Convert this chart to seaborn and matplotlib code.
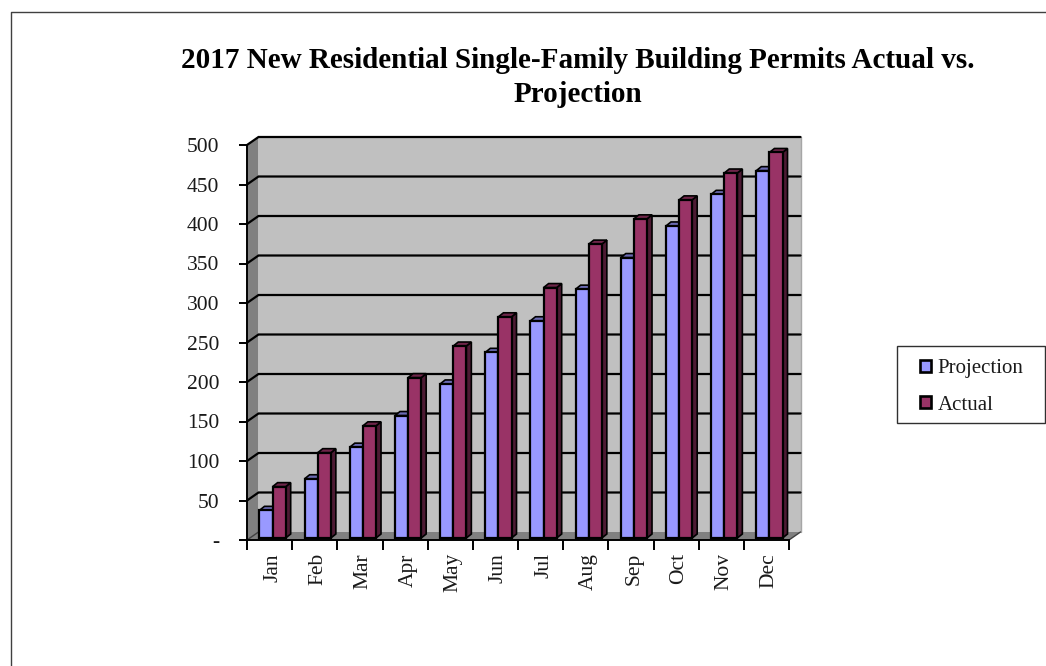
import matplotlib
matplotlib.use("Agg")
import matplotlib.pyplot as plt
import numpy as np
import pandas as pd
import seaborn as sns
from matplotlib.lines import Line2D
from matplotlib.patches import Patch, Polygon, Rectangle
from matplotlib.transforms import ScaledTranslation

months = ["Jan", "Feb", "Mar", "Apr", "May", "Jun", "Jul", "Aug", "Sep", "Oct", "Nov", "Dec"]
projection = [35, 75, 115, 155, 195, 235, 275, 315, 355, 395, 435, 465]
actual = [65, 108, 142, 203, 243, 280, 317, 372, 404, 428, 462, 488]
yticks = [0, 50, 100, 150, 200, 250, 300, 350, 400, 450, 500]
ylabels = ["-", "50", "100", "150", "200", "250", "300", "350", "400", "450", "500"]
title = "2017 New Residential Single-Family Building Permits Actual vs.\nProjection"

df = pd.DataFrame({
    "month": months * 2,
    "permits": projection + actual,
    "series": ["Projection"] * 12 + ["Actual"] * 12,
})

sns.set_theme(style="white")
plt.rcParams["font.family"] = ["Liberation Serif", "DejaVu Serif"]

W, H = 1046, 666
fig = plt.figure(figsize=(W / 100, H / 100), dpi=100)
ax = fig.add_axes([247 / W, (H - 540) / H, 542 / W, 395 / H])
ax.patch.set_visible(False)

colors = {"Projection": "#9999FF", "Actual": "#993366"}
tops = {"Projection": "#6B6BB3", "Actual": "#6E2549"}
sides = {"Projection": "#4D4D80", "Actual": "#4D1A33"}

sns.barplot(data=df, x="month", y="permits", hue="series", palette=colors,
            saturation=1, width=0.58, gap=0, edgecolor="black", linewidth=1.6,
            legend=False, zorder=5, ax=ax)
bars = list(ax.patches)
ax.set_xlim(-0.5, 11.5)
ax.set_ylim(0, 500)
ax.set_xlabel("")
ax.set_ylabel("")

# pixel sizes turned into data units
px_x = 12 / 542
px_y = 500 / 395
wall_dx, wall_dy = 11.5 * px_x, 8 * px_y
bar_dx, bar_dy = 5 * px_x, 4 * px_y
shift_x, shift_y = 3 * px_x, 2 * px_y

# back wall, side wall, floor
x0, x1 = -0.5, 11.5
ax.add_patch(Polygon([(x0 + wall_dx, wall_dy), (x1 + wall_dx, wall_dy), (x1 + wall_dx, 500 + wall_dy), (x0 + wall_dx, 500 + wall_dy)],
                     fc="#C0C0C0", ec="none", zorder=1, clip_on=False))
ax.add_patch(Polygon([(x0, 0), (x0 + wall_dx, wall_dy), (x0 + wall_dx, 500 + wall_dy), (x0, 500)],
                     fc="#808080", ec="none", zorder=1, clip_on=False))
ax.add_patch(Polygon([(x0, 0), (x1, 0), (x1 + wall_dx, wall_dy), (x0 + wall_dx, wall_dy)],
                     fc="#808080", ec="none", zorder=1, clip_on=False))
ax.plot([x1 + wall_dx, x1 + wall_dx], [wall_dy, 500 + wall_dy], color="#A6A6A6", lw=1, zorder=2, clip_on=False)
ax.plot([x1, x1 + wall_dx], [0, wall_dy], color="#404040", lw=1, zorder=2, clip_on=False)
ax.plot([x0, x0 + wall_dx], [0, wall_dy], color="#404040", lw=1, zorder=2, clip_on=False)

for v in yticks[1:]:
    ax.plot([x0, x0 + wall_dx, x1 + wall_dx], [v, v + wall_dy, v + wall_dy],
            color="black", lw=1.6, zorder=3, clip_on=False, solid_joinstyle="miter")

# 3d faces of the bars
names = ["Projection"] * 12 + ["Actual"] * 12
for bar, name in zip(bars, names):
    bar.set_x(bar.get_x() + shift_x)
    bar.set_y(shift_y)
    l, r = bar.get_x(), bar.get_x() + bar.get_width()
    b, t = bar.get_y(), bar.get_y() + bar.get_height()
    z = 4 if name == "Projection" else 4.5
    bar.set_zorder(z + 0.2)
    ax.add_patch(Polygon([(r, b), (r + bar_dx, b + bar_dy), (r + bar_dx, t + bar_dy), (r, t)],
                         fc=sides[name], ec="black", lw=1.2, zorder=z, clip_on=False))
    ax.add_patch(Polygon([(l, t), (r, t), (r + bar_dx, t + bar_dy), (l + bar_dx, t + bar_dy)],
                         fc=tops[name], ec="black", lw=1.2, zorder=z, clip_on=False))

sns.despine(ax=ax, top=True, right=True)
for s in ["left", "bottom"]:
    ax.spines[s].set_linewidth(1.4)
    ax.spines[s].set_color("black")
    ax.spines[s].set_zorder(6)

ax.set_yticks(yticks)
ax.set_yticklabels(ylabels, fontsize=15.5, color="#1A1A1A")
ax.tick_params(axis="y", length=6, width=1.4, color="black", pad=14, left=True)
ax.set_xticks(np.arange(12))
ax.set_xticklabels(months, rotation=90, fontsize=15.5, color="#1A1A1A")
ax.tick_params(axis="x", which="major", length=0, pad=9.5, bottom=False)
ax.set_xticks(np.arange(-0.5, 12), minor=True)
ax.tick_params(axis="x", which="minor", length=7, width=1.4, color="black", bottom=True)
for lab in ax.get_xticklabels():
    lab.set_transform(lab.get_transform() + ScaledTranslation(3 / 100, 0, fig.dpi_scale_trans))

fig.text(578 / W, (H - 77.5) / H, title, ha="center", va="center", fontsize=21,
         fontweight="bold", color="black", linespacing=1.3)

# legend box is wider than its content
fig.add_artist(Rectangle((897 / W, (H - 423) / H), 148 / W, 77 / H, fc="white", ec="#303030", lw=1,
                         transform=fig.transFigure))
handles = [Patch(fc=colors["Projection"], ec="black", lw=1.9), Patch(fc=colors["Actual"], ec="black", lw=1.9)]
leg = fig.legend(handles, ["Projection", "Actual"], loc="center left", bbox_to_anchor=(920 / W, (H - 387) / H),
                 bbox_transform=fig.transFigure, fontsize=15, frameon=False, handlelength=0.55, handleheight=0.55,
                 handletextpad=0.3, labelspacing=0.82, borderpad=0, borderaxespad=0)
leg.set_zorder(10)
for t in leg.get_texts():
    t.set_color("#1A1A1A")

# outer chart border, only top and left show in the crop
fig.add_artist(Line2D([11 / W, 11 / W, 1], [0, (H - 12) / H, (H - 12) / H], color="#404040", lw=1,
                      transform=fig.transFigure))

fig.savefig("out.png", dpi=100)
